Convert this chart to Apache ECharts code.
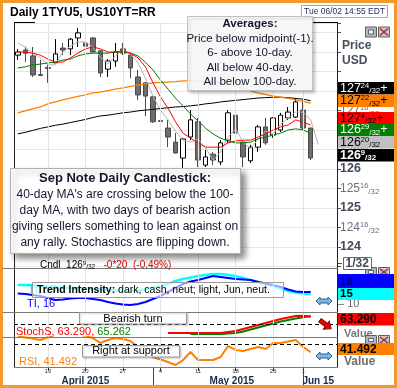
<!DOCTYPE html>
<html>
<head>
<meta charset="utf-8">
<script src="https://cdn.jsdelivr.net/npm/echarts@6.0.0/dist/echarts.min.js"></script>
<style>
html,body{margin:0;padding:0;background:#fff;}
#chart{width:397px;height:388px;}
</style>
</head>
<body>
<div id="chart"></div>
<script>
const FONT = '"Liberation Sans", Arial, sans-serif';

// ---------- data ----------
const dates = ['4/7','4/8','4/9','4/10','4/13','4/14','4/15','4/16','4/17','4/20','4/21','4/22','4/23','4/24',
  '4/27','4/28','4/29','4/30','5/1','5/4','5/5','5/6','5/7','5/8','5/11','5/12','5/13','5/14','5/15',
  '5/18','5/19','5/20','5/21','5/22','5/26','5/27','5/28','5/29','6/1','6/2'];
const futureSlots = ['6/3','6/4','6/5'];

// [open, close, low, high]
const ohlc = [
[128.92,129.00,128.80,129.08],[129.05,128.97,128.74,129.13],[128.90,128.41,128.36,129.13],[128.42,128.40,128.38,128.80],
[128.60,128.58,128.21,128.67],[128.72,128.95,128.72,129.33],[129.10,129.05,128.92,129.23],[129.08,129.33,128.92,129.36],
[129.36,129.49,129.13,129.62],[129.23,129.15,129.10,129.44],[129.36,129.00,128.98,129.38],[129.03,128.46,128.36,129.05],
[128.56,128.77,128.36,128.82],[128.77,129.00,128.62,129.23],[129.08,128.97,128.92,129.23],[128.92,128.59,128.33,128.97],
[128.36,127.90,127.77,128.54],[128.21,127.87,127.36,128.23],[127.85,127.21,127.18,127.87],[127.24,127.22,127.05,127.56],
[127.05,126.82,126.56,127.26],[126.69,126.41,126.40,126.92],[126.28,126.77,126.03,126.80],[126.82,127.26,126.74,127.51],
[127.21,126.23,126.05,127.31],[126.10,126.31,126.05,126.49],[126.38,126.23,126.10,126.44],[126.18,126.67,126.10,126.74],
[126.74,127.44,126.67,127.51],[127.38,126.92,126.87,127.44],[126.69,126.31,126.05,126.74],[126.21,126.56,126.15,126.62],
[126.56,127.08,126.44,127.13],[127.08,126.67,126.62,127.31],[126.87,127.31,126.80,127.33],[127.00,127.38,126.95,127.44],
[127.31,127.46,127.26,127.59],[127.33,127.72,127.31,127.82],[127.51,127.05,127.00,127.77],[127.05,126.28,126.23,127.06]
];
const ma6 = [129.00,129.00,128.97,128.92,128.82,128.74,128.74,128.85,128.97,129.08,129.13,129.08,129.00,129.00,129.03,128.97,
  128.85,128.62,128.21,127.85,127.56,127.21,126.92,126.79,126.67,126.56,126.56,126.56,126.67,126.72,126.74,126.74,126.82,
  126.90,127.00,127.08,127.13,127.26,127.20,127.13];
const ma10 = [128.59,128.62,128.67,128.69,128.72,128.74,128.79,128.82,128.90,128.95,128.97,128.97,128.97,129.00,129.00,128.97,
  128.90,128.74,128.54,128.28,128.05,127.82,127.62,127.41,127.23,127.05,126.90,126.79,126.72,126.67,126.67,126.69,126.77,
  126.82,126.87,126.92,127.00,127.03,127.00,126.91];
const midpoint = [129.23,129.13,128.97,128.85,128.67,128.67,129.00,129.15,129.26,129.26,129.13,128.87,128.69,128.90,129.05,
  128.95,128.72,128.33,127.87,127.51,127.26,126.97,126.74,126.69,126.77,126.54,126.23,126.44,126.82,127.03,126.69,126.51,
  126.77,126.97,126.90,127.15,127.31,127.46,127.46,127.26,126.63];
const ma40 = [127.44,127.49,127.54,127.59,127.67,127.72,127.77,127.82,127.86,127.90,127.95,127.97,128.01,128.05,128.08,128.12,
  128.15,128.18,128.21,128.22,128.23,128.24,128.26,128.26,128.26,128.24,128.23,128.21,128.17,128.12,128.06,128.00,127.95,
  127.91,127.87,127.84,127.81,127.77,127.73,127.69];
const ma100 = [126.90,126.94,126.99,127.04,127.08,127.12,127.15,127.19,127.23,127.27,127.32,127.36,127.38,127.41,127.44,127.46,
  127.49,127.51,127.53,127.55,127.57,127.59,127.60,127.62,127.64,127.67,127.69,127.72,127.74,127.76,127.78,127.80,127.82,
  127.83,127.84,127.84,127.83,127.81,127.79,127.75];
const tiCash = [15.25,15,14.5,14,13,12,12.25,12.75,13,13,12.5,12,11,10.25,9.75,9.5,10,11,12.5,14,16,18,20,21.25,22,23,24,
  23.5,23,22.5,22.25,22,21,20.25,19.5,18.5,17.25,16.25,16,16];
const tiJun = [19.5,19.5,19.5,19,18.75,18.5,18.25,18,18,17.75,17.5,17.25,17,16.75,16.5,16.5,16.75,17.25,18,19,20,21.5,22.5,
  23.25,24,24.5,25,25,24.5,24,23,22,21,20,19,17.5,16.5,15.75,15.25,15];
const stochK = [null,null,null,null,null,null,null,null,null,null,null,null,null,null,null,null,null,null,null,null,
  4.4,4.4,4.4,4.4,4.4,4.4,4.4,4.4,8,11.6,18.8,26,33.2,40.4,47.6,54.8,60.2,65.6,66.5,63.29];
const stochD = [null,null,null,null,null,null,null,null,null,null,null,null,null,null,null,null,null,null,null,null,null,null,null,
  0.8,0.8,0.8,0.8,0.8,2.6,4.4,9.8,17,24.2,31.4,38.6,45.8,51.2,56.6,61,65.26];
const rsi = [58.5,57,56,54.4,57.2,60,62,62.5,61,58.5,56.4,51.2,54.3,56.4,55.4,53.3,47,41.8,36.5,33.9,31.3,28.1,33.3,41.8,
  33.3,33.3,33.3,36.5,48,43.9,42.8,44.9,47,44.9,51.2,51.2,52.8,54.4,47,41.49];
const stochLevel = 37;
const rsiLevel = 50;

const weekStarts = ['4/13','4/20','4/27','5/4','5/11','5/18','5/26','6/1'];
const monthStarts = ['5/1','6/1'];
const monthNames = ['April 2015','May 2015','Jun 15'];
const monthLabelSlots = [['4/20','4/20'],['5/15','5/18'],['6/3','6/3']];

const priceTags = [
  {whole:'127', num:'24', tail:'+', bg:'#000000', fg:'#ffffff'},
  {whole:'127', num:'22', tail:'+', bg:'#ff8000', fg:'#000000'},
  {whole:'127', num:'4',  tail:'+', bg:'#ff0000', fg:'#000000'},
  {whole:'126', num:'29', tail:'+', bg:'#008000', fg:'#ffffff'},
  {whole:'126', num:'20', tail:'',  bg:'#c0c0c0', fg:'#000000'},
  {whole:'126', num:'9',  tail:'',  bg:'#000000', fg:'#ffffff', bold:true}
];
const averagesNote = ['Averages:', 'Price below midpoint(-1).', '6- above 10-day.', 'All below 40-day.', 'All below 100-day.'];
const sepNote = ['Sep Note Daily Candlestick:', "40-day MA's are crossing below the 100-",
  'day MA, with two days of bearish action', 'giving sellers something to lean against on',
  'any rally. Stochastics are flipping down.'];

// ---------- chart ----------
const cats = dates.concat(futureSlots);
const chart = echarts.init(document.getElementById('chart'), null, {renderer: 'canvas'});

const grids = [
  {left:14, top:22.75, width:323, height:243.75},
  {left:14, top:268, width:323, height:44},
  {left:14, top:312, width:323, height:25},
  {left:14, top:337, width:323, height:30}
].map(g => Object.assign({outerBoundsMode:'none', containLabel:false, show:false}, g));

const isWeek = (i, v) => weekStarts.indexOf(v) >= 0;
const xAxes = [0,1,2,3].map(g => ({
  type:'category', gridIndex:g, data:cats, boundaryGap:true,
  axisLine:{show:false}, splitLine:{show:false},
  axisTick: g === 3 ? {show:true, alignWithLabel:true, interval:isWeek, length:4, lineStyle:{color:'#333'}} : {show:false},
  axisLabel: g === 3 ? {show:true, interval:isWeek, fontSize:6, color:'#333', margin:1, fontFamily:FONT,
      formatter: v => v.split('/')[1]} : {show:false}
}));

function priceLabel(v) {
  if (v < 124 || v > 127.6) return '';
  const w = Math.floor(v + 1e-9);
  const n = Math.round((v - w) * 32);
  return n === 0 ? '{b|' + w + '}' : '{n|' + w + '}{s|' + n + '}{f|/32}';
}

const yAxes = [
  {type:'value', gridIndex:0, position:'right', min:123.5, max:129.75, interval:0.5,
   axisLine:{show:false}, axisTick:{show:true, length:4, lineStyle:{color:'#555'}},
   splitLine:{show:true, lineStyle:{color:'#e6e6e6', width:1}},
   axisLabel:{margin:3, formatter:priceLabel, rich:{
     b:{fontFamily:FONT, fontSize:12.5, fontWeight:'bold', color:'#3e4c5e', lineHeight:14},
     n:{fontFamily:FONT, fontSize:12, color:'#66737f', lineHeight:14},
     s:{fontFamily:FONT, fontSize:7.5, color:'#66737f', verticalAlign:'top'},
     f:{fontFamily:FONT, fontSize:8, color:'#66737f', verticalAlign:'bottom'}
   }}},
  {type:'value', gridIndex:1, position:'right', min:6, max:28, interval:2,
   axisLine:{show:false}, axisTick:{show:false}, splitLine:{show:false},
   axisLabel:{margin:1, fontFamily:FONT, fontSize:11, color:'#666', formatter: v => v === 10 ? '\u2013 10' : ''}},
  {type:'value', gridIndex:2, position:'right', min:-10, max:80,
   axisLine:{show:false}, axisTick:{show:false}, splitLine:{show:false}, axisLabel:{show:false}},
  {type:'value', gridIndex:3, position:'right', min:26, max:57.5,
   axisLine:{show:false}, axisTick:{show:false}, splitLine:{show:false}, axisLabel:{show:false}}
];

const gridLineSeries = [0,1,2,3].map(g => ({
  type:'line', xAxisIndex:g, yAxisIndex:g, data:cats.map(() => null), z:1, silent:true, symbol:'none',
  markLine:{silent:true, symbol:['none','none'], label:{show:false}, animation:false,
    lineStyle:{color:'#e3e3e3', type:'solid', width:1},
    data: weekStarts.map(d => ({xAxis:d}))}
}));

const L = (data, color, width, g, z) => ({type:'line', data, xAxisIndex:g, yAxisIndex:g, symbol:'none',
  lineStyle:{color, width}, itemStyle:{color}, z:z || 4, silent:true, connectNulls:false, clip:true});

const series = gridLineSeries.concat([
  {type:'candlestick', xAxisIndex:0, yAxisIndex:0, data:ohlc, barWidth:5, z:3, silent:true,
   itemStyle:{color:'#ffffff', color0:'#6e6e6e', borderColor:'#000000', borderColor0:'#4a4a4a', borderWidth:1}},
  L(midpoint, '#b4b4b4', 1, 0),
  L(ma100, '#000000', 1, 0),
  L(ma40, '#ff8000', 1.3, 0),
  L(ma10, '#008000', 1, 0),
  L(ma6, '#ff0000', 1, 0),
  L(tiJun, '#00ffff', 2.5, 1),
  L(tiCash, '#0000ff', 2, 1),
  Object.assign(L(stochD, '#008000', 2, 2), {markLine:{silent:true, symbol:['none','none'], label:{show:false},
    lineStyle:{color:'#000', type:[4,3], width:1}, data:[{yAxis:stochLevel}]}}),
  L(stochK, '#ff0000', 2, 2),
  Object.assign(L(rsi, '#ff8000', 2, 3), {markLine:{silent:true, symbol:['none','none'], label:{show:false},
    lineStyle:{color:'#000', type:[4,3], width:1}, data:[{yAxis:rsiLevel}]}})
]);

chart.setOption({
  animation:false,
  backgroundColor:'#ffffff',
  textStyle:{fontFamily:FONT},
  grid:grids, xAxis:xAxes, yAxis:yAxes, series:series
});

// ---------- decorations ----------
const G = [];
function gLine(x1,y1,x2,y2,stroke,w,z){G.push({type:'line',silent:true,z:z||60,shape:{x1,y1,x2,y2},style:{stroke,lineWidth:w||1}});}
function gRect(x,y,w,h,style,z){G.push({type:'rect',silent:true,z:z||100,shape:{x,y,width:w,height:h},style:Object.assign({fill:'#fff',stroke:'none',lineWidth:1},style)});}
function gText(x,y,t,style,z){G.push({type:'text',silent:true,z:z||101,x,y,style:Object.assign({text:t,fontFamily:FONT,fontSize:11,fill:'#000',align:'left',verticalAlign:'middle'},style)});}
function gPoly(points, style, z){G.push({type:'polygon',silent:true,z:z||105,shape:{points},style});}

// title + timestamp
gText(10, 12.5, 'Daily 1TYU5, US10YT=RR', {fontSize:12, fontWeight:'bold'});
gRect(301.5, 5.5, 86, 12, {fill:'#fff', stroke:'#a8a8a8'});
gText(344.5, 11.8, 'Tue 06/02 14:55 EDT', {fontSize:8.5, fill:'#1a2a5a', align:'center'});

// pane frames
gLine(14.5, 22, 14.5, 368, '#222');
gLine(337.5, 22, 337.5, 368, '#222');
gLine(14, 22.5, 35, 22.5, '#000');
gLine(312, 22.5, 338, 22.5, '#000');
gLine(3, 268.5, 338, 268.5, '#7a7a7a');
gLine(3, 312.5, 338, 312.5, '#7a7a7a');
gLine(3, 337.5, 338, 337.5, '#7a7a7a');
gLine(14, 367.5, 338, 367.5, '#7a7a7a');

// right header
gText(342, 46, 'Price', {fontSize:12, fontWeight:'bold', fill:'#434f5e'});
gText(342, 61, 'USD', {fontSize:12, fontWeight:'bold', fill:'#434f5e'});
function icons(y, h, z) {
  gRect(365.5, y+0.5, 11, h, {fill:'#b0b8c0', stroke:'#5a6068'}, z);
  gRect(368.5, y+3.5, 5, h-6, {fill:'#ffffff', stroke:'#5a6068'}, z);
  gRect(378.5, y+0.5, 11, h, {fill:'#d0c4c4', stroke:'#6a5a5a'}, z);
  G.push({type:'polyline', silent:true, z:z+1, shape:{points:[[380,y+2],[388,y+h-1]]}, style:{stroke:'#a03030', lineWidth:1.5}});
  G.push({type:'polyline', silent:true, z:z+1, shape:{points:[[388,y+2],[380,y+h-1]]}, style:{stroke:'#a03030', lineWidth:1.5}});
}
icons(26.5, 10, 100);
icons(267, 9, 100);
icons(335, 9, 100);

// price tags
const tagTops = [82, 94.5, 112, 123.5, 136, 149];
priceTags.forEach((t, k) => {
  const top = tagTops[k];
  const wgt = t.bold ? 'bold' : 'normal';
  gRect(338, top, 57, 12.6, {fill:t.bg}, 110);
  gText(340, top + 6.3, '{w|' + t.whole + '}{s|' + t.num + '}{f|/32}{w|' + t.tail + '}', {rich:{
    w:{fontFamily:FONT, fontSize:12.5, fontWeight:wgt, fill:t.fg, lineHeight:13},
    s:{fontFamily:FONT, fontSize:7.5, fontWeight:wgt, fill:t.fg, verticalAlign:'top'},
    f:{fontFamily:FONT, fontSize:8, fontWeight:wgt, fill:t.fg, verticalAlign:'bottom'}
  }}, 111);
});
// 1/32 box
gLine(338, 263.5, 342, 263.5, '#555');
gRect(343.5, 257.5, 28, 12, {fill:'#fff', stroke:'#666'}, 100);
gText(345.5, 263.8, '1/32', {fontSize:12, fontWeight:'bold', fill:'#3e4c5e'});

// indicator tags
gRect(338, 274, 57, 14, {fill:'#0000ff'}, 110);
gText(340, 281.5, String(tiCash[tiCash.length-1]), {fontSize:11.5, fill:'#000033'}, 111);
gRect(338, 288, 57, 12, {fill:'#00ffff'}, 110);
gText(340, 294.3, String(tiJun[tiJun.length-1]), {fontSize:11.5, fontWeight:'bold', fill:'#000'}, 111);
gRect(338, 313, 57, 12.5, {fill:'#ff0000'}, 110);
gText(340, 319.5, '63.290', {fontSize:12, fontWeight:'bold', fill:'#000'}, 111);
gText(344, 333.5, 'Value', {fontSize:11, fontWeight:'bold', fill:'#777'}, 99);
gRect(338, 343, 57, 12, {fill:'#ff8000'}, 110);
gText(340, 349.3, '41.492', {fontSize:12, fontWeight:'bold', fill:'#000'}, 111);
gText(344, 362, 'Value', {fontSize:12, fontWeight:'bold', fill:'#6e6e6e'}, 111);

// arrows
function dblArrow(cx, cy) {
  gPoly([[cx-8,cy],[cx-4,cy-4],[cx-4,cy-2],[cx+4,cy-2],[cx+4,cy-4],[cx+8,cy],[cx+4,cy+4],[cx+4,cy+2],[cx-4,cy+2],[cx-4,cy+4]],
        {fill:'#7cb8e6', stroke:'#2d5f8f', lineWidth:1});
}
dblArrow(324, 301);
dblArrow(324, 356);
G.push({type:'polygon', silent:true, z:105, x:325.5, y:324.5, rotation:-0.65,
  shape:{points:[[-7,-2],[1,-2],[1,-5],[7,0],[1,5],[1,2],[-7,2]]}, style:{fill:'#e00000', stroke:'#8a0000', lineWidth:1}});

// Cndl line
gText(40, 265.5, '{k|Cndl  126}{s|9}{f|/32}{r|   -0*20  (-0.49%)}', {rich:{
  k:{fontFamily:FONT, fontSize:10, fill:'#000', lineHeight:11},
  s:{fontFamily:FONT, fontSize:6, fill:'#000', verticalAlign:'top'},
  f:{fontFamily:FONT, fontSize:6.5, fill:'#000', verticalAlign:'bottom'},
  r:{fontFamily:FONT, fontSize:10, fill:'#e00000', lineHeight:11}
}}, 95);

// averages box
gRect(187.5, 16.5, 125, 74, {fill:'rgba(255,255,255,0.85)', stroke:'#c0c0c0',
  shadowBlur:3, shadowColor:'rgba(0,0,0,0.25)', shadowOffsetX:2, shadowOffsetY:2}, 100);
const avgY = [23.5, 38.5, 53, 67.5, 82];
averagesNote.forEach((t, k) => gText(250, avgY[k], t, {fontSize:11.5, fontWeight: k === 0 ? 'bold' : 'normal', fill:'#15152e', align:'center'}));

// Sep note box
gRect(10.5, 168.5, 230, 85, {fill:'#ffffff', stroke:'#b0b0b0',
  shadowBlur:6, shadowColor:'rgba(0,0,0,0.45)', shadowOffsetX:4, shadowOffsetY:4}, 100);
const sepY = [178.5, 195, 211, 227, 243];
sepNote.forEach((t, k) => gText(125, sepY[k], t, {fontSize: k === 0 ? 13 : 12, fontWeight: k === 0 ? 'bold' : 'normal', fill:'#15152e', align:'center'}));

// sub-pane legends and notes
gText(28, 290, 'TI, 15', {fontSize:11, fill:'#00d8d8'}, 90);
gText(27, 304, 'TI, 16', {fontSize:11, fill:'#0000ff'}, 90);
gRect(32.5, 282.5, 251, 15, {fill:'rgba(255,255,255,0.62)', stroke:'#9a9a9a'}, 100);
gText(37, 290, '{b|Trend Intensity:}{n| dark, cash, neut; light, Jun, neut.}', {rich:{
  b:{fontFamily:FONT, fontSize:10.5, fontWeight:'bold', fill:'#000'},
  n:{fontFamily:FONT, fontSize:10.5, fill:'#000'}
}});
gRect(79.5, 312.5, 107, 11.5, {fill:'#ffffff', stroke:'#9a9a9a', shadowBlur:2, shadowColor:'rgba(0,0,0,0.2)', shadowOffsetX:1, shadowOffsetY:1}, 100);
gText(133, 318.5, 'Bearish turn', {fontSize:11, align:'center'});
gText(16, 332, '{r|StochS, 63.290, }{g|65.262}', {rich:{
  r:{fontFamily:FONT, fontSize:11, fill:'#ff0000'},
  g:{fontFamily:FONT, fontSize:11, fill:'#008000'}
}}, 95);
gRect(82.5, 345.5, 97, 11.5, {fill:'#ffffff', stroke:'#9a9a9a', shadowBlur:2, shadowColor:'rgba(0,0,0,0.2)', shadowOffsetX:1, shadowOffsetY:1}, 100);
gText(131, 351.3, 'Right at support', {fontSize:11, align:'center'});
gText(19, 362, 'RSI, 41.492', {fontSize:11, fill:'#ff8000'}, 95);

// month labels & dividers from the axis scale
const px = name => chart.convertToPixel({xAxisIndex:3}, name);
monthStarts.forEach(m => { const x = Math.round(px(m)) + 0.5; gLine(x, 368, x, 386, '#444', 1, 60); });
monthNames.forEach((n, k) => {
  const x = (px(monthLabelSlots[k][0]) + px(monthLabelSlots[k][1])) / 2;
  gText(x, 381, n, {fontSize:10, fontWeight:'bold', fill:'#1c2a4a', align:'center'}, 101);
});

// outer orange frame
gRect(1.5, 1.5, 394, 385, {fill:'none', stroke:'#f39a2f', lineWidth:3}, 200);

chart.setOption({graphic:{elements:G}});
</script>
</body>
</html>
